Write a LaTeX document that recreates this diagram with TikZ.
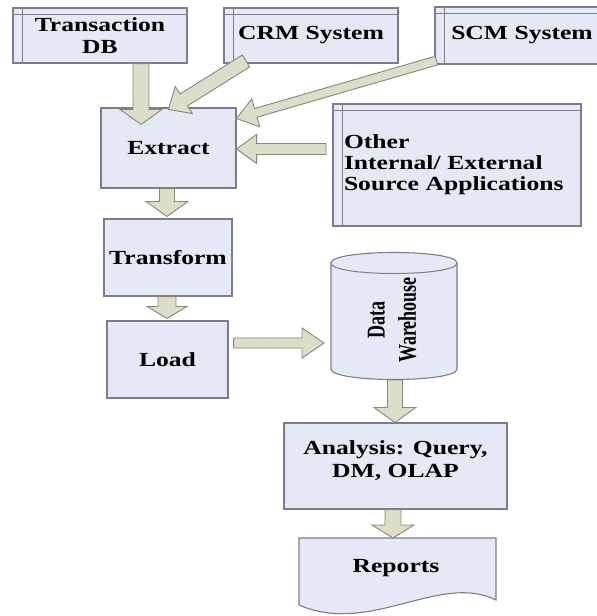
\documentclass[tikz,border=0pt]{standalone}
\usepackage{fontspec}
\usepackage{graphicx}
\newfontfamily\lblfont{Liberation Serif}[FakeStretch=1.28]
\newfontfamily\dwfont{Liberation Serif}
\usetikzlibrary{calc}

\definecolor{boxfill}{RGB}{229,232,245}
\definecolor{boxline}{RGB}{125,125,138}
\definecolor{arrfill}{RGB}{220,222,202}
\definecolor{arrline}{RGB}{135,135,120}

% fat block arrow: start, tip, half shaft width, half head width, head length
\newcommand\fatarrow[5]{%
  \coordinate (fahb) at ($(#2)!#5pt!(#1)$);
  \filldraw[arr] ($(#1)!#3pt!90:(#2)$) -- ($(fahb)!#3pt!90:(#2)$)
    -- ($(fahb)!#4pt!90:(#2)$) -- (#2) -- ($(fahb)!#4pt!-90:(#2)$)
    -- ($(fahb)!#3pt!-90:(#2)$) -- ($(#1)!#3pt!-90:(#2)$) -- cycle;}

\tikzset{
  lbl/.style={font=\lblfont\bfseries\fontsize{20}{22}\selectfont, align=center, inner sep=0pt},
  box/.style={draw=boxline, fill=boxfill, line width=1.1pt, inner sep=0pt, lbl},
  inner/.style={draw=boxline, line width=1pt},
  arr/.style={fill=arrfill, draw=arrline, line width=0.9pt, line join=miter},
}

\begin{document}
\begin{tikzpicture}[x=1pt,y=-1pt]
\useasboundingbox (0,0) rectangle (597,616);
\fill[white] (0,0) rectangle (597,616);

% source systems
\node[box, minimum width=174pt, minimum height=55pt] (tdb) at (100,35.5) {Transaction\\DB};
\node[box, minimum width=174pt, minimum height=55pt] (crm) at (311,35.5) {CRM System};
\node[box, minimum width=174pt, minimum height=57pt] (scm) at (522,35.5) {SCM System};
\node[box, minimum height=122pt, text width=226pt, inner xsep=11pt, align=left] (oth) at (457,165)
  {Other\\[-1pt]Internal/ External\\[-1pt]Source Applications};
\foreach \n in {tdb,crm,scm,oth}{
  \draw[inner] ([xshift=10pt]\n.north west) -- ([xshift=10pt]\n.south west);
  \draw[inner] ([yshift=-7pt]\n.north west) -- ([yshift=-7pt]\n.north east);
}

% ETL steps
\node[box, minimum width=135pt, minimum height=80pt] (ex) at (168.5,148) {Extract};
\node[box, minimum width=128pt, minimum height=77pt] (tr) at (168,257.5) {Transform};
\node[box, minimum width=121pt, minimum height=77pt] (ld) at (167.5,359.5) {Load};

% data warehouse cylinder
\draw[box] (331,263) .. controls (331,249) and (457,249) .. (457,263)
  -- (457,369) .. controls (457,383) and (331,383) .. (331,369) -- cycle;
\draw[inner] (331,263) .. controls (331,277) and (457,277) .. (457,263);
\node[rotate=90, inner sep=0pt] (dw) at (394,320)
  {\scalebox{1}[1.42]{\dwfont\bfseries\fontsize{18}{22}\selectfont
   \begin{tabular}{@{}c@{}}Data\\Warehouse\end{tabular}}};
\coordinate (dwl) at (331,343);
\coordinate (dwb) at (395,380);

% analysis
\node[box, minimum width=223pt, minimum height=86pt] (an) at (395.5,466) {};
\node[lbl] (antext) at ($(an.center)+(0,-5)$) {Analysis: Query,\\[1pt]DM, OLAP};

% reports document
\draw[box] (299,538) -- (496,538) -- (496,600)
  .. controls (440,572) and (370,636) .. (299,605) -- cycle;
\node[lbl] (rp) at (396,568) {Reports};
\coordinate (rpt) at (393,538);

% connectors
\coordinate (a1s) at ($(tdb.south)+(41,0)$);
\coordinate (a1t) at ($(ex.north)+(-27.5,17)$);
\fatarrow{a1s}{a1t}{8}{21}{15}
\coordinate (a2s) at (246,61);
\coordinate (a2t) at ($(ex.north)+(0,2)$);
\fatarrow{a2s}{a2t}{7}{16}{18}
\coordinate (a3s) at ($(scm.south west)+(2,-4)$);
\coordinate (a3t) at ($(ex.north east)+(0,11)$);
\fatarrow{a3s}{a3t}{4.5}{14.5}{20}
\coordinate (a4s) at (326,149);
\coordinate (a4t) at (ex.east |- a4s);
\fatarrow{a4s}{a4t}{5.5}{14.5}{20}
\coordinate (a5s) at ($(ex.south)+(-1.5,0)$);
\coordinate (a5t) at ($(tr.north)+(-1,-2)$);
\fatarrow{a5s}{a5t}{7.5}{21}{15}
\coordinate (a6s) at ($(tr.south)+(-1,0)$);
\coordinate (a6t) at ($(ld.north)+(-0.5,-2)$);
\fatarrow{a6s}{a6t}{9}{20}{12}
\coordinate (a7s) at ($(ld.east |- dwl)+(5,0)$);
\coordinate (a7t) at ($(dwl)+(-7,0)$);
\fatarrow{a7s}{a7t}{5}{15}{22}
\coordinate (a8t) at (an.north -| dwb);
\fatarrow{dwb}{a8t}{7.5}{21}{15}
\coordinate (a9s) at (an.south -| rpt);
\fatarrow{a9s}{rpt}{8}{21}{13}
\end{tikzpicture}
\end{document}
